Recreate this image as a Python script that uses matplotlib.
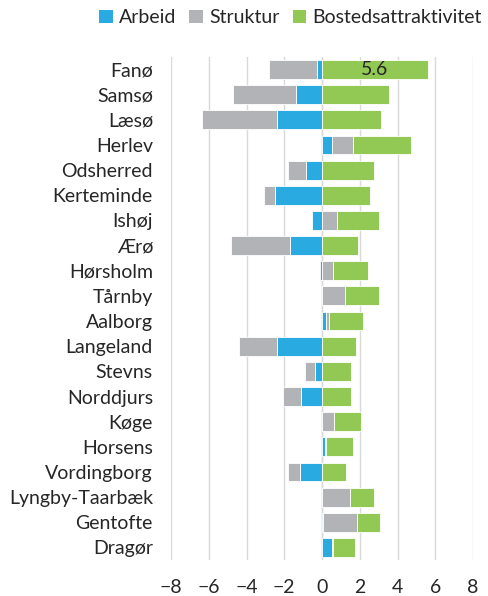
import numpy as np
import matplotlib.pyplot as plt

plt.rcParams['font.family'] = ['Lato', 'DejaVu Sans']

kommuner = ["Fanø", "Samsø", "Læsø", "Herlev", "Odsherred", "Kerteminde",
            "Ishøj", "Ærø", "Hørsholm", "Tårnby", "Aalborg", "Langeland",
            "Stevns", "Norddjurs", "Køge", "Horsens", "Vordingborg",
            "Lyngby-Taarbæk", "Gentofte", "Dragør"]

arbeid = [-0.25, -1.40, -2.40, 0.51, -0.85, -2.49, -0.53, -1.71, -0.10, 0.0,
          0.19, -2.37, -0.39, -1.11, 0.0, 0.14, -1.15, 0.0, 0.05, 0.55]
struktur = [-2.56, -3.32, -3.96, 1.13, -0.97, -0.57, 0.81, -3.11, 0.58, 1.22,
            0.19, -2.01, -0.53, -0.97, 0.64, 0.09, -0.67, 1.50, 1.80, 0.04]
bosted = [5.6, 3.53, 3.11, 3.09, 2.76, 2.53, 2.23, 1.89, 1.84, 1.82,
          1.78, 1.80, 1.55, 1.55, 1.43, 1.41, 1.29, 1.25, 1.20, 1.15]

series = [("Arbeid", arbeid, "#29ABE2"),
          ("Struktur", struktur, "#B2B3B6"),
          ("Bostedsattraktivitet", bosted, "#92C955")]

fig = plt.figure(figsize=(4.88, 5.96), dpi=100)
ax = fig.add_axes([0.3504, 0.0604, 0.6189, 0.8440])

y = np.arange(len(kommuner))
pos_base = np.zeros(len(kommuner))
neg_base = np.zeros(len(kommuner))
bars = {}
for name, vals, col in series:
    v = np.array(vals)
    left = np.where(v >= 0, pos_base, neg_base)
    bars[name] = ax.barh(y, v, left=left, height=0.75, color=col,
                         edgecolor="white", linewidth=0.6, label=name, zorder=3)
    pos_base += np.where(v >= 0, v, 0)
    neg_base += np.where(v < 0, v, 0)

# value label on Fanø
ax.text(bosted[0] / 2, 0, "%.1f" % bosted[0], ha="center", va="center",
        fontsize=14, color="#262626", zorder=4)

ax.set_xlim(-8, 8)
ax.set_ylim(len(kommuner) - 0.5, -0.5)
ax.set_xticks(range(-8, 9, 2))
ax.set_yticks(y)
ax.set_yticklabels(kommuner)
ax.tick_params(axis="both", length=0, labelsize=14, colors="#262626")
ax.tick_params(axis="y", pad=13)
ax.tick_params(axis="x", pad=14)
ax.grid(axis="x", color="#D9D9D9", lw=1, zorder=0)
ax.axvline(0, color="#D9D9D9", lw=1, zorder=1)
for s in ax.spines.values():
    s.set_visible(False)

leg = fig.legend(handles=[bars[n] for n, _, _ in series], loc="center",
                 bbox_to_anchor=(0.595, 0.97), ncol=3, frameon=False,
                 fontsize=14, handlelength=0.7, handleheight=0.7,
                 handletextpad=0.3, columnspacing=0.7, labelcolor="#262626")
for h in leg.legend_handles:
    h.set_edgecolor("none")

fig.savefig("out.png", dpi=100)
